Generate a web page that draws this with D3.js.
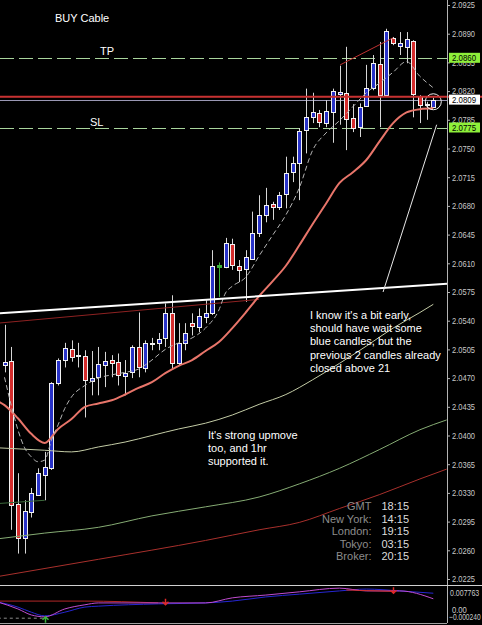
<!DOCTYPE html>
<html>
<head>
<meta charset="utf-8">
<script src="https://cdn.jsdelivr.net/npm/d3@7"></script>
<style>
  html, body { margin: 0; padding: 0; background: #000; }
  svg { display: block; }
  text { font-family: "Liberation Sans", Arial, sans-serif; }
</style>
</head>
<body>
<div id="chart"></div>
<script>
// ---- candles (GBPUSD "Cable"), one per bar, oldest first ----
const opens  = [2.0486,2.0491,2.0316,2.0275,2.0307,2.0328,2.0352,2.0360,2.0464,2.0492,2.0505,2.0498,2.0497,2.0466,2.0471,2.0486,2.0492,2.0490,2.0472,2.0477,
                2.0508,2.0482,2.0513,2.0513,2.0519,2.0549,2.0488,2.0513,2.0537,2.0532,2.0544,2.0549,2.0606,2.0605,2.0634,2.0607,2.0603,2.0615,2.0647,2.0669,
                2.0682,2.0679,2.0694,2.0721,2.0732,2.0772,2.0788,2.0793,2.0781,2.0794,2.0816,2.0818,2.0787,2.0776,2.0802,2.0824,2.0853,2.0815,2.0885,2.0875,
                2.0874,2.0881,2.0814,2.0803,2.0801];
const highs  = [2.0535,2.0508,2.0354,2.0321,2.0336,2.0360,2.0380,2.0465,2.0494,2.0513,2.0516,2.0513,2.0504,2.0503,2.0508,2.0502,2.0498,2.0500,2.0492,2.0510,
                2.0550,2.0516,2.0519,2.0525,2.0561,2.0571,2.0537,2.0537,2.0549,2.0555,2.0565,2.0626,2.0611,2.0641,2.0640,2.0614,2.0626,2.0673,2.0693,2.0702,
                2.0685,2.0697,2.0740,2.0740,2.0775,2.0823,2.0818,2.0797,2.0809,2.0823,2.0851,2.0874,2.0804,2.0805,2.0852,2.0864,2.0880,2.0896,2.0886,2.0892,
                2.0892,2.0882,2.0815,2.0807,2.0812];
const lows   = [2.0477,2.0285,2.0256,2.0256,2.0300,2.0327,2.0321,2.0358,2.0461,2.0483,2.0490,2.0483,2.0422,2.0449,2.0449,2.0459,2.0471,2.0461,2.0449,2.0470,
                2.0471,2.0477,2.0504,2.0504,2.0508,2.0480,2.0486,2.0504,2.0522,2.0526,2.0537,2.0547,2.0569,2.0604,2.0602,2.0587,2.0563,2.0614,2.0642,2.0660,
                2.0663,2.0675,2.0677,2.0709,2.0687,2.0744,2.0781,2.0776,2.0776,2.0757,2.0779,2.0748,2.0770,2.0764,2.0801,2.0821,2.0776,2.0813,2.0876,2.0864,
                2.0854,2.0788,2.0781,2.0785,2.0801];
const closes = [2.0490,2.0315,2.0275,2.0308,2.0330,2.0354,2.0361,2.0464,2.0492,2.0507,2.0496,2.0497,2.0468,2.0470,2.0487,2.0491,2.0488,2.0474,2.0476,2.0508,
                2.0483,2.0513,2.0511,2.0518,2.0549,2.0488,2.0513,2.0525,2.0533,2.0546,2.0549,2.0607,2.0608,2.0635,2.0608,2.0602,2.0618,2.0647,2.0669,2.0681,
                2.0679,2.0693,2.0720,2.0732,2.0771,2.0788,2.0794,2.0782,2.0796,2.0820,2.0819,2.0786,2.0775,2.0801,2.0824,2.0854,2.0815,2.0893,2.0879,2.0879,
                2.0884,2.0816,2.0803,2.0804,2.0809];
const signalBar = 32;   // bar painted green by the signal indicator

// ---- moving averages, read at bar indices ----
const fastIdx = [0,1,2,3,4,5,6,7,8,9,10,12,14,16,18,20,22,24,26,28,30,32,33,34,36,38,40,42,44,46,48,50,52,54,56,58,60,62,64];
const fastMA  = [2.0471,2.0437,2.0407,2.0385,2.0374,2.0368,2.0370,2.0394,2.0413,2.0433,2.0447,2.0461,2.0470,2.0474,2.0477,2.0481,2.0492,2.0505,2.0513,2.0519,
                 2.0531,2.0553,2.0574,2.0582,2.0593,2.0619,2.0644,2.0669,2.0702,2.0748,2.0769,2.0784,2.0801,2.0818,2.0830,2.0843,2.0856,2.0838,2.0824];
const emaIdx  = [-1,0,2,4,6,8,10,12,14,16,18,20,22,24,26,28,30,32,34,36,38,40,42,44,46,48,50,52,54,56,58,60,62,64];
const ema21   = [2.0442,2.0437,2.0421,2.0402,2.0391,2.0408,2.0420,2.0435,2.0439,2.0443,2.0450,2.0458,2.0465,2.0476,2.0485,2.0492,2.0503,2.0514,2.0531,2.0550,
                 2.0570,2.0588,2.0607,2.0632,2.0658,2.0683,2.0708,2.0721,2.0736,2.0759,2.0781,2.0794,2.0798,2.0799];
const midIdx  = [-1,6,10,14,18,22,26,30,34,38,42,46,50,54,58,62,64];
const midMA   = [2.0385,2.0382,2.0380,2.0386,2.0392,2.0400,2.0408,2.0415,2.0425,2.0438,2.0450,2.0468,2.0488,2.0509,2.0531,2.0550,2.0560];
const slowIdx = [-1,6,14,22,30,38,44,50,56,62,66];
const slowMA  = [2.0274,2.0281,2.0288,2.0302,2.0313,2.0325,2.0341,2.0360,2.0383,2.0407,2.0419];
const longIdx = [-1,14,30,38,44,50,56,62,66];
const longMA  = [2.0228,2.0249,2.0272,2.0285,2.0294,2.0311,2.0328,2.0347,2.0359];
const envIdx  = [-1,38];
const envMA   = [2.0537,2.0566];
const stubIdx = [-1,6];
const stubMA  = [2.0317,2.0321];

// ---- drawn objects: [bar index, price] ----
const trendLine   = [[-0.67,2.0549],[66.04,2.0585]];
const channelLine = [[50.1,2.0852],[58.0,2.0885]];
const pointerLine = [[56.5,2.0575],[64.5,2.0779]];
const circleAt    = [64,2.0807];
const tpLevel = 2.0860, slLevel = 2.0775, askLevel = 2.0813, bidLevel = 2.0809;

// ---- price axis ----
const priceTicks = [2.0925,2.0890,2.0855,2.0820,2.0785,2.0750,2.0715,2.0680,2.0645,2.0610,2.0575,2.0540,2.0505,2.0470,2.0435,2.0400,2.0365,2.0330,2.0295,2.0260,2.0225];

// ---- lower indicator window ----
const indIdx     = [-1,2,4,6,9,12,14,23,30,34,39,44,50,54,59,64];
const indBlue    = [0.0043,0.0032,0.0021,0.0013,0.0021,0.0032,0.0034,0.0039,0.0041,0.0045,0.0054,0.0060,0.0067,0.0071,0.0067,0.0062];
const indMagenta = [0.0043,0.0028,0.0015,0.0011,0.0028,0.0037,0.0041,0.0041,0.0041,0.0052,0.0058,0.0065,0.0073,0.0067,0.0067,0.0050];
const sigIdxA = [-1,12,23], sigA = [0.0045,0.0045,0.0041];
const sigIdxB = [51,58],    sigB = [0.0069,0.0066];
const levelIdx = [-1,6],    levelVal = [0.0008,0.0008];
const arrowsUp   = [[6,0.0011]];
const arrowsDown = [[24,0.0050],[58,0.0075]];
const indMax = 0.007763, indMin = -0.000240;

const notes1 = ["I know it's a bit early,", "should have wait some", "blue candles, but the", "previous 2 candles already", "closed above 21"];
const notes2 = ["It's strong upmove", "too, and 1hr", "supported it."];
const clockNames = ["GMT", "New York:", "London:", "Tokyo:", "Broker:"];
const clockTimes = ["18:15", "14:15", "19:15", "03:15", "20:15"];

// ---------------------------------------------------------------
const W = 482, H = 625;
const axisX = 447, mainBottom = 585, indTop = 586, indBottom = 623;

const x = d3.scaleLinear().domain([0, 64]).range([4.5, 433.3]);
const y = d3.scaleLinear().domain([2.0225, 2.0925]).range([579, 5]);
const yi = d3.scaleLinear().domain([indMin, indMax]).range([indBottom, indTop]);
const crisp = v => Math.round(v) + 0.5;

const svg = d3.select("#chart").append("svg").attr("width", W).attr("height", H);
svg.append("rect").attr("width", W).attr("height", H).attr("fill", "#000");

const defs = svg.append("defs");
defs.append("clipPath").attr("id", "clipMain").append("rect")
    .attr("x", 0).attr("y", 0).attr("width", axisX).attr("height", mainBottom);
defs.append("clipPath").attr("id", "clipInd").append("rect")
    .attr("x", 0).attr("y", indTop).attr("width", axisX).attr("height", indBottom - indTop);

const g = svg.append("g").attr("clip-path", "url(#clipMain)");

// level lines
function hLine(p, color, width, dash) {
    const yy = crisp(y(p));
    g.append("line").attr("x1", 0).attr("x2", axisX).attr("y1", yy).attr("y2", yy)
        .attr("stroke", color).attr("stroke-width", width)
        .attr("stroke-dasharray", dash || null);
}
hLine(tpLevel, "#a8d49c", 1, "14,5");
hLine(slLevel, "#a8d49c", 1, "14,5");
hLine(bidLevel, "#9a98b4", 1);

// candles
const wickColor = "#d6d6d6";
const gc = g.append("g");
opens.forEach((o, i) => {
    const c = closes[i];
    const cx = crisp(x(i));
    const isSig = i === signalBar;
    gc.append("line").attr("x1", cx).attr("x2", cx)
        .attr("y1", y(highs[i])).attr("y2", y(lows[i]))
        .attr("stroke", isSig ? "#3cb43c" : wickColor).attr("stroke-width", 1);
    const top = crisp(y(Math.max(o, c)));
    const bot = crisp(y(Math.min(o, c)));
    gc.append("rect").attr("x", cx - 2).attr("y", top)
        .attr("width", 4).attr("height", Math.max(bot - top, 0))
        .attr("fill", isSig ? "#3cb43c" : (c >= o ? "#2832c8" : "#d42c2c"))
        .attr("stroke", isSig ? "#3cb43c" : "#f2f2f2").attr("stroke-width", 1);
});

// moving averages
const maLine = d3.line().x(d => x(d[0])).y(d => y(d[1])).curve(d3.curveMonotoneX);
function drawMA(idx, vals, color, width, dash) {
    g.append("path").datum(idx.map((k, j) => [k, vals[j]]))
        .attr("d", maLine).attr("fill", "none")
        .attr("stroke", color).attr("stroke-width", width)
        .attr("stroke-dasharray", dash || null);
}
drawMA(longIdx, longMA, "#a8302c", 1);
drawMA(slowIdx, slowMA, "#86ac74", 1);
drawMA(midIdx, midMA, "#c4cca6", 1);
drawMA(envIdx, envMA, "#8e2222", 1);
drawMA(stubIdx, stubMA, "#3c6a3c", 1);
drawMA(emaIdx, ema21, "#e8756a", 2);
drawMA(fastIdx, fastMA, "#b4b4b4", 1, "5,3");

// drawn objects
const straight = d3.line().x(d => x(d[0])).y(d => y(d[1]));
g.append("path").datum(trendLine).attr("d", straight)
    .attr("stroke", "#ffffff").attr("stroke-width", 2).attr("fill", "none");
g.append("path").datum(channelLine).attr("d", straight)
    .attr("stroke", "#c03232").attr("stroke-width", 1).attr("fill", "none");
g.append("path").datum(pointerLine).attr("d", straight)
    .attr("stroke", "#e8e8e8").attr("stroke-width", 1).attr("fill", "none");
g.append("circle").attr("cx", x(circleAt[0])).attr("cy", y(circleAt[1])).attr("r", 8)
    .attr("fill", "none").attr("stroke", "#f0f0f0").attr("stroke-width", 1);

// texts on chart
const txt = (t, xx, yy, color, anchor) => g.append("text").attr("x", xx).attr("y", yy)
    .attr("fill", color).attr("text-anchor", anchor || "start")
    .style("font-size", "11px").text(t);
txt("BUY Cable", 55, 22, "#ffffff");
txt("TP", 100, 55, "#ffffff");
txt("SL", 90, 126, "#ffffff");
notes1.forEach((t, k) => txt(t, 310, 318.5 + k * 13.4, "#ffffff"));
notes2.forEach((t, k) => txt(t, 208, 438.5 + k * 13.3, "#ffffff"));
clockNames.forEach((t, k) => txt(t, 371.5, 510 + k * 12.5, "#8c8c8c", "end"));
clockTimes.forEach((t, k) => txt(t, 381.5, 510 + k * 12.5, "#dcdcdc"));

// price axis
const axis = d3.axisRight(y).tickValues(priceTicks).tickFormat(d3.format(".4f"))
    .tickSize(3).tickPadding(2);
const ga = svg.append("g").attr("transform", `translate(${axisX},0)`).call(axis);
ga.select(".domain").remove();
ga.selectAll(".tick line").attr("stroke", "#b4b4b4");
ga.selectAll(".tick text").attr("fill", "#c8c8c8")
    .style("font-size", "9px").style("font-family", "'Liberation Sans', Arial, sans-serif")
    .attr("textLength", 23).attr("lengthAdjust", "spacingAndGlyphs");

// ask line runs through the scale
svg.append("line").attr("x1", 0).attr("x2", W)
    .attr("y1", y(askLevel)).attr("y2", y(askLevel))
    .attr("stroke", "#c83232").attr("stroke-width", 2);

// price tags
function tag(p, bg) {
    const yy = y(p);
    svg.append("rect").attr("x", 449).attr("y", yy - 5.5).attr("width", 31).attr("height", 10)
        .attr("fill", bg);
    svg.append("text").attr("x", 452).attr("y", yy + 3).attr("fill", "#000")
        .style("font-size", "9px").attr("textLength", 24).attr("lengthAdjust", "spacingAndGlyphs")
        .text(d3.format(".4f")(p));
}
tag(tpLevel, "#8ef03a");
tag(bidLevel, "#ffffff");
tag(slLevel, "#8ef03a");

// frame lines
svg.append("line").attr("x1", crisp(axisX)).attr("x2", crisp(axisX)).attr("y1", 0).attr("y2", indBottom)
    .attr("stroke", "#b4b4b4");
svg.append("line").attr("x1", 0).attr("x2", W).attr("y1", crisp(mainBottom)).attr("y2", crisp(mainBottom))
    .attr("stroke", "#d0d0d0");
svg.append("line").attr("x1", 0).attr("x2", axisX).attr("y1", crisp(indBottom)).attr("y2", crisp(indBottom))
    .attr("stroke", "#a0a0a0");

// indicator window
const gi = svg.append("g").attr("clip-path", "url(#clipInd)");
const indLine = d3.line().x(d => x(d[0])).y(d => yi(d[1])).curve(d3.curveMonotoneX);
function drawInd(idx, vals, color, dash) {
    gi.append("path").datum(idx.map((k, j) => [k, vals[j]]))
        .attr("d", indLine).attr("fill", "none").attr("stroke", color)
        .attr("stroke-width", 1).attr("stroke-dasharray", dash || null);
}
drawInd(levelIdx, levelVal, "#8c8c8c", "3,3");
drawInd(sigIdxA, sigA, "#b42828");
drawInd(indIdx, indBlue, "#2626d2");
drawInd(indIdx, indMagenta, "#c04cd0");
drawInd(sigIdxB, sigB, "#d03030");

function arrow(d, color, up) {
    const ax = crisp(x(d[0]));
    const top = yi(d[1]);
    const tip = up ? top : top + 6;
    const dir = up ? 1 : -1;
    gi.append("path")
        .attr("d", `M${ax},${top}L${ax},${top + 6}M${ax - 3},${tip + 3 * dir}L${ax},${tip}L${ax + 3},${tip + 3 * dir}`)
        .attr("fill", "none").attr("stroke", color).attr("stroke-width", 1.5);
}
arrowsUp.forEach(d => arrow(d, "#3cb43c", true));
arrowsDown.forEach(d => arrow(d, "#e02828", false));

// indicator scale labels, narrowed so they fit beside the axis
const indTxt = (t, xx, yy, sx) => svg.append("g").attr("transform", `translate(${xx},${yy}) scale(${sx},1)`)
    .append("text").attr("fill", "#c8c8c8").style("font-size", "9px").text(t);
indTxt(d3.format(".6f")(indMax), 450, 596, 0.78);
indTxt("0.00", 452, 613, 0.85);
indTxt(d3.format(".6f")(indMin), 449, 620, 0.74);
</script>
</body>
</html>
